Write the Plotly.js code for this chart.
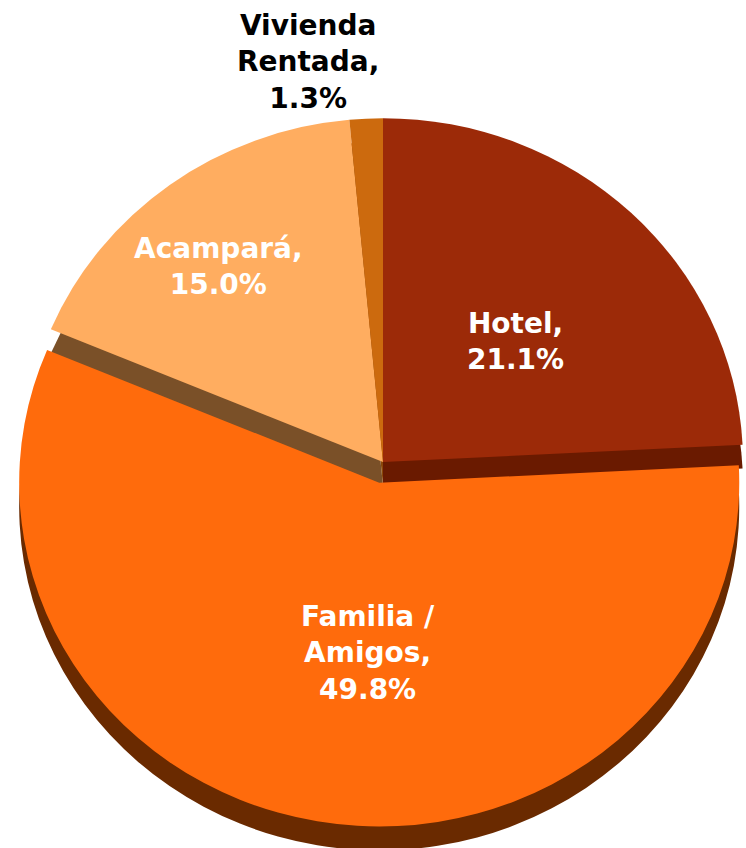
<!DOCTYPE html>
<html>
<head>
<meta charset="utf-8">
<script src="https://cdn.plot.ly/plotly-3.0.1.min.js"></script>
<style>
html,body{margin:0;padding:0;background:#fff;overflow:hidden;width:746px;height:848px;}
#chart{width:780px;height:900px;}
/* slight vertical foreshortening of the pie, like the tilted 3-D original */
#chart .pielayer{transform-origin:383px 462px;transform:scaleY(0.955);}
</style>
</head>
<body>
<div id="chart"></div>
<script>
// Data
const categories = ['Hotel', 'Familia / Amigos', 'Acampará', 'Vivienda Rentada'];
const displayLabels = ['Hotel,', 'Familia /<br>Amigos,', 'Acampará,', 'Vivienda<br>Rentada,'];
const values = [21.1, 49.8, 15.0, 1.3];
const pulls = [0, 0.061, 0, 0];

// Styles
const topColors = ['#9C2A08', '#FF6B0C', '#FFAD60', '#CC6A0E'];
const sideColors = ['#6A1A00', '#6A2A00', '#7A5028', '#8A4608'];
const labelColors = ['#ffffff', '#ffffff', '#ffffff', '#000000'];
const labelPos = [[515, 341], [368, 653], [218, 266], [308, 62]]; // pixel positions of label blocks

const W = 780, H = 900;

const common = {
  type: 'pie',
  labels: categories,
  values: values,
  sort: false,
  direction: 'clockwise',
  rotation: 0,
  pull: pulls,
  textinfo: 'none',
  hoverinfo: 'skip',
  showlegend: false
};

const depthTrace = Object.assign({}, common, {
  marker: {colors: sideColors, line: {width: 0}},
  domain: {x: [1 / W, 765 / W], y: [31 / H, 795 / H]}
});
const faceTrace = Object.assign({}, common, {
  marker: {colors: topColors, line: {width: 0}},
  domain: {x: [1 / W, 765 / W], y: [56 / H, 820 / H]}
});

const annotations = categories.map((c, i) => ({
  xref: 'paper', yref: 'paper',
  x: labelPos[i][0] / W, y: (H - labelPos[i][1]) / H,
  xanchor: 'center', yanchor: 'middle',
  showarrow: false,
  text: displayLabels[i] + '<br>' + values[i].toFixed(1) + '%',
  font: {family: 'DejaVu Sans', size: 28, color: labelColors[i], weight: 'bold'}
}));

Plotly.newPlot('chart', [depthTrace, faceTrace], {
  width: W, height: H,
  margin: {l: 0, r: 0, t: 0, b: 0},
  paper_bgcolor: '#ffffff',
  plot_bgcolor: '#ffffff',
  annotations: annotations,
  showlegend: false
}, {staticPlot: true, displayModeBar: false});
</script>
</body>
</html>
